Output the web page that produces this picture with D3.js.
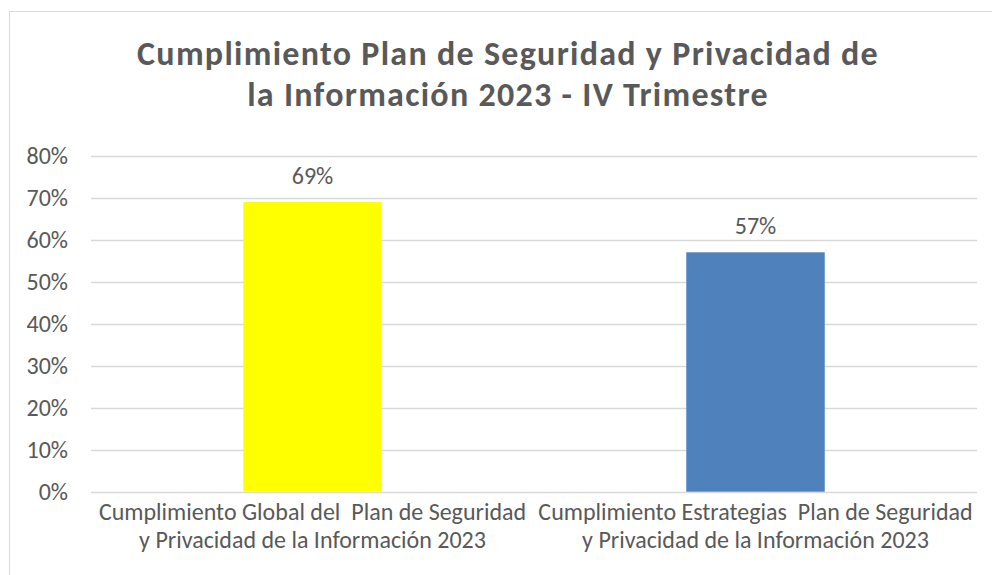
<!DOCTYPE html>
<html>
<head>
<meta charset="utf-8">
<script src="https://cdn.jsdelivr.net/npm/d3@7"></script>
<style>
  html, body { margin: 0; padding: 0; background: #fff; }
  svg { display: block; }
  text { font-family: Carlito, Calibri, Lato, sans-serif; fill: #595959; }
</style>
</head>
<body>
<svg id="chart" width="992" height="575"></svg>
<script>
const titleLines = ["Cumplimiento Plan de Seguridad y Privacidad de", "la Información 2023 - IV Trimestre"];
const categories = ["Global", "Estrategias"];
const categoryLabels = [
  ["Cumplimiento Global del  Plan de Seguridad", "y Privacidad de la Información 2023"],
  ["Cumplimiento Estrategias  Plan de Seguridad", "y Privacidad de la Información 2023"]
];
const values = [0.69, 0.57];
const barColors = ["#FFFF00", "#4F81BD"];
const yTicks = [0, 0.1, 0.2, 0.3, 0.4, 0.5, 0.6, 0.7, 0.8];

const svg = d3.select("#chart");

// chart border
svg.append("rect")
  .attr("x", 9.5).attr("y", 11.5)
  .attr("width", 1100).attr("height", 700)
  .attr("fill", "#fff").attr("stroke", "#d9d9d9").attr("stroke-width", 1);

const x = d3.scaleBand().domain(categories).range([91, 977])
  .paddingInner(0.6874).paddingOuter(0.3437);
const y = d3.scaleLinear().domain([0, 0.8]).range([491.7, 155.7]);

// gridlines
svg.append("g").selectAll("line").data(yTicks).join("line")
  .attr("x1", 91).attr("x2", 977)
  .attr("y1", d => Math.round(y(d)) + 0.5).attr("y2", d => Math.round(y(d)) + 0.5)
  .attr("stroke", "#d9d9d9").attr("stroke-width", 1.3);

// y axis labels
const yAxis = d3.axisLeft(y).tickValues(yTicks).tickFormat(d3.format(".0%")).tickSize(0).tickPadding(0);
const gy = svg.append("g").attr("transform", "translate(68,0)").call(yAxis);
gy.select(".domain").remove();
gy.selectAll("text").attr("font-size", 24).attr("fill", "#595959")
  .style("font-family", "Carlito, Calibri, Lato, sans-serif").attr("dy", "0.34em");

// bars
svg.append("g").selectAll("rect").data(values).join("rect")
  .attr("x", (d, i) => x(categories[i]))
  .attr("width", x.bandwidth())
  .attr("y", d => y(d))
  .attr("height", d => y(0) - y(d))
  .attr("fill", (d, i) => barColors[i]);

// data labels
svg.append("g").selectAll("text").data(values).join("text")
  .attr("x", (d, i) => x(categories[i]) + x.bandwidth() / 2)
  .attr("y", d => y(d) - 18)
  .attr("text-anchor", "middle")
  .attr("font-size", 24)
  .text(d => d3.format(".0%")(d));

// category labels
const cat = svg.append("g").selectAll("text").data(categoryLabels).join("text")
  .attr("text-anchor", "middle")
  .attr("font-size", 24)
  .style("white-space", "pre")
  .attr("xml:space", "preserve");
cat.each(function(lines, i) {
  const cx = x(categories[i]) + x.bandwidth() / 2;
  d3.select(this).selectAll("tspan").data(lines).join("tspan")
    .attr("x", cx)
    .attr("y", (l, j) => 519.5 + j * 28.5)
    .text(l => l);
});

// title
svg.append("g").selectAll("text").data(titleLines).join("text")
  .attr("x", 508)
  .attr("y", (d, i) => 64.5 + i * 41)
  .attr("text-anchor", "middle")
  .attr("font-size", 34)
  .attr("letter-spacing", 1.3)
  .attr("font-weight", "bold")
  .text(d => d);
</script>
</body>
</html>
